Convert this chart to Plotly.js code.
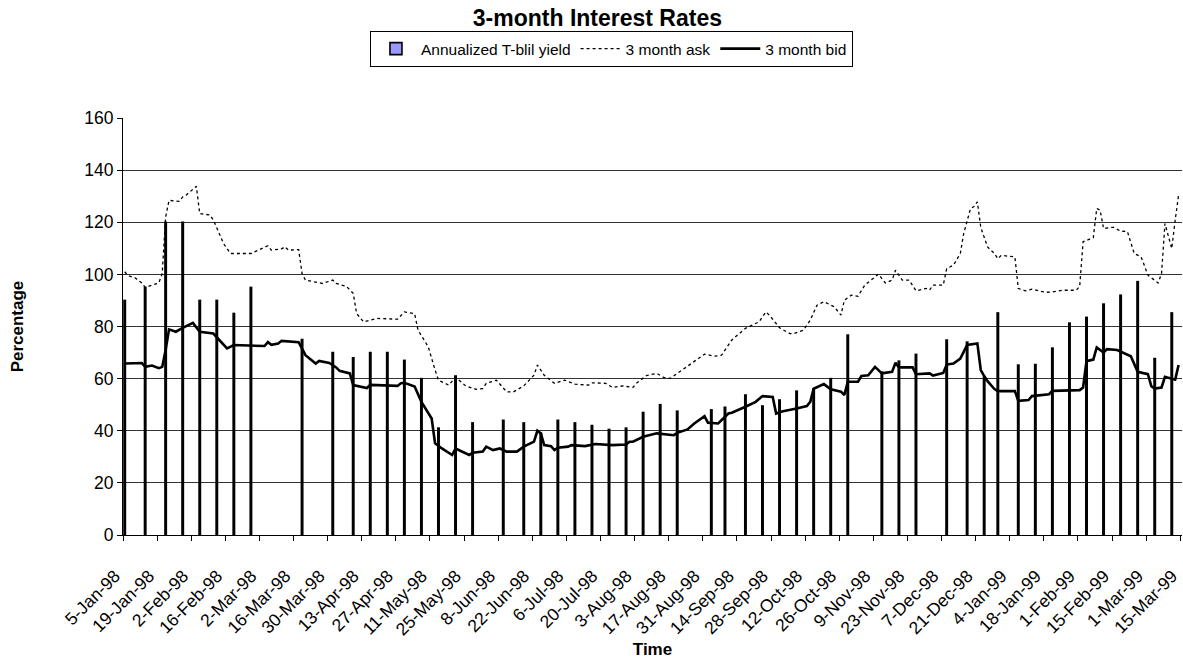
<!DOCTYPE html>
<html>
<head>
<meta charset="utf-8">
<script src="https://cdn.plot.ly/plotly-3.0.1.min.js"></script>
<style>html,body{margin:0;padding:0;background:#fff}#chart{width:1183px;height:661px}</style>
</head>
<body>
<div id="chart"></div>
<script>
// ---- data ----
const tickDates = ["1998-01-05","1998-01-19","1998-02-02","1998-02-16","1998-03-02","1998-03-16","1998-03-30","1998-04-13","1998-04-27","1998-05-11","1998-05-25","1998-06-08","1998-06-22","1998-07-06","1998-07-20","1998-08-03","1998-08-17","1998-08-31","1998-09-14","1998-09-28","1998-10-12","1998-10-26","1998-11-09","1998-11-23","1998-12-07","1998-12-21","1999-01-04","1999-01-18","1999-02-01","1999-02-15","1999-03-01","1999-03-15"];
const tickLabels = ["5-Jan-98","19-Jan-98","2-Feb-98","16-Feb-98","2-Mar-98","16-Mar-98","30-Mar-98","13-Apr-98","27-Apr-98","11-May-98","25-May-98","8-Jun-98","22-Jun-98","6-Jul-98","20-Jul-98","3-Aug-98","17-Aug-98","31-Aug-98","14-Sep-98","28-Sep-98","12-Oct-98","26-Oct-98","9-Nov-98","23-Nov-98","7-Dec-98","21-Dec-98","4-Jan-99","18-Jan-99","1-Feb-99","15-Feb-99","1-Mar-99","15-Mar-99"];

const yieldDates = ["1998-01-05","1998-01-13","1998-01-21","1998-01-28","1998-02-04","1998-02-11","1998-02-18","1998-02-25","1998-03-18","1998-03-31","1998-04-08","1998-04-15","1998-04-22","1998-04-29","1998-05-06","1998-05-13","1998-05-20","1998-05-27","1998-06-09","1998-06-17","1998-06-24","1998-07-01","1998-07-08","1998-07-15","1998-07-22","1998-07-29","1998-08-05","1998-08-12","1998-08-19","1998-09-02","1998-09-08","1998-09-16","1998-09-23","1998-09-30","1998-10-07","1998-10-14","1998-10-21","1998-10-28","1998-11-11","1998-11-18","1998-11-25","1998-12-08","1998-12-16","1998-12-23","1998-12-29","1999-01-06","1999-01-13","1999-01-20","1999-01-27","1999-02-03","1999-02-10","1999-02-17","1999-02-24","1999-03-03","1999-03-10"];
const yieldValues = [90,95,120,120,90,90,85,95,75,70,68,70,70,67,60,41,61,43,44,43,39,44,43,42,40.5,41,47,50,47.5,48,49,53.7,49.5,51.8,55.2,56,60,76.7,62.5,66.7,69.3,74.8,74,60.5,85.2,65.2,65.4,71.7,81.3,83.5,88.6,92,97.2,67.7,85.2];

const askDates = ["1998-01-05","1998-01-06","1998-01-08","1998-01-12","1998-01-13","1998-01-15","1998-01-19","1998-01-20","1998-01-21","1998-01-22","1998-01-27","1998-01-28","1998-01-29","1998-02-03","1998-02-04","1998-02-09","1998-02-10","1998-02-13","1998-02-17","1998-02-25","1998-02-27","1998-03-04","1998-03-05","1998-03-10","1998-03-11","1998-03-12","1998-03-17","1998-03-18","1998-03-19","1998-03-26","1998-03-31","1998-04-01","1998-04-06","1998-04-08","1998-04-09","1998-04-13","1998-04-17","1998-04-27","1998-04-29","1998-05-04","1998-05-05","1998-05-08","1998-05-12","1998-05-13","1998-05-18","1998-05-20","1998-05-25","1998-05-28","1998-06-01","1998-06-02","1998-06-05","1998-06-10","1998-06-12","1998-06-17","1998-06-22","1998-06-23","1998-06-25","1998-06-30","1998-07-03","1998-07-08","1998-07-14","1998-07-15","1998-07-21","1998-07-23","1998-07-28","1998-07-31","1998-08-03","1998-08-06","1998-08-11","1998-08-13","1998-08-17","1998-08-19","1998-08-24","1998-08-31","1998-09-03","1998-09-07","1998-09-10","1998-09-16","1998-09-22","1998-09-24","1998-09-25","1998-09-30","1998-10-05","1998-10-06","1998-10-09","1998-10-13","1998-10-15","1998-10-19","1998-10-22","1998-10-26","1998-10-27","1998-10-29","1998-11-02","1998-11-04","1998-11-09","1998-11-10","1998-11-12","1998-11-16","1998-11-17","1998-11-19","1998-11-23","1998-11-25","1998-11-30","1998-12-01","1998-12-02","1998-12-07","1998-12-08","1998-12-10","1998-12-14","1998-12-15","1998-12-17","1998-12-18","1998-12-21","1998-12-22","1998-12-24","1998-12-28","1998-12-29","1998-12-30","1999-01-05","1999-01-06","1999-01-08","1999-01-12","1999-01-18","1999-01-20","1999-01-25","1999-01-29","1999-02-01","1999-02-02","1999-02-05","1999-02-08","1999-02-09","1999-02-10","1999-02-12","1999-02-15","1999-02-17","1999-02-19","1999-02-23","1999-02-25","1999-02-26","1999-03-01","1999-03-04","1999-03-05","1999-03-08","1999-03-09","1999-03-10","1999-03-11","1999-03-12"];
const askValues = [101,99.5,98.7,96.7,95,95.8,96.7,100.3,122,128.4,128,129.7,130.4,133.8,123.3,122.8,120.8,111.8,108,108,109.3,111,109.3,109.8,110.6,109.3,109.5,100.3,97.8,96.5,97.8,96.5,95.4,92.7,85,81.8,83.1,82.8,85.6,84.9,78.6,72.2,63.3,59.4,57.5,60.5,57.2,55.9,56.2,58.2,59.4,54.9,54.9,57.2,61.3,65.2,61.3,58.2,59.4,57.9,57.5,58.4,58.2,56.6,57.2,56.6,58.2,61.2,62,60.5,60.1,62,64.5,69.4,68.6,69,74.8,79.3,81.8,85.6,84.4,79.5,77.3,77.2,78.6,82.4,88.2,89.5,87.6,84.4,90.1,92,91.6,95.9,99,100.1,96.7,97.8,101.6,97.8,97.8,93.7,94.6,94,95.9,95.9,102.2,103.5,108,115.7,125.3,126,127.8,118,110.5,108,106,107.3,106.7,94.6,93.7,94.3,93.1,93.3,93.9,93.9,95.4,112.5,114.1,125.3,124.6,117.6,118,118,116.6,116.4,108,106.7,103.3,99.7,96.7,100.3,119.5,114.4,109.9,120.8,130.4];

const bidDates = ["1998-01-05","1998-01-12","1998-01-13","1998-01-15","1998-01-19","1998-01-20","1998-01-21","1998-01-22","1998-01-26","1998-01-28","1998-02-02","1998-02-04","1998-02-10","1998-02-16","1998-02-18","1998-03-03","1998-03-04","1998-03-05","1998-03-09","1998-03-10","1998-03-17","1998-03-19","1998-03-24","1998-03-25","1998-03-30","1998-04-01","1998-04-02","1998-04-07","1998-04-08","1998-04-14","1998-04-15","1998-04-21","1998-04-27","1998-04-28","1998-04-29","1998-05-04","1998-05-06","1998-05-11","1998-05-12","1998-05-14","1998-05-19","1998-05-20","1998-05-26","1998-05-27","1998-06-01","1998-06-02","1998-06-04","1998-06-08","1998-06-10","1998-06-15","1998-06-17","1998-06-22","1998-06-23","1998-06-24","1998-06-25","1998-06-29","1998-06-30","1998-07-01","1998-07-06","1998-07-07","1998-07-13","1998-07-16","1998-07-23","1998-07-29","1998-07-30","1998-07-31","1998-08-05","1998-08-11","1998-08-18","1998-08-19","1998-08-24","1998-08-26","1998-08-31","1998-09-01","1998-09-04","1998-09-09","1998-09-10","1998-09-16","1998-09-21","1998-09-23","1998-09-28","1998-09-29","1998-10-01","1998-10-07","1998-10-12","1998-10-13","1998-10-14","1998-10-19","1998-10-21","1998-10-26","1998-10-27","1998-10-28","1998-11-02","1998-11-03","1998-11-05","1998-11-09","1998-11-11","1998-11-16","1998-11-17","1998-11-18","1998-11-24","1998-11-25","1998-12-01","1998-12-02","1998-12-07","1998-12-08","1998-12-10","1998-12-14","1998-12-16","1998-12-21","1998-12-22","1998-12-23","1998-12-24","1998-12-28","1998-12-29","1999-01-05","1999-01-06","1999-01-11","1999-01-12","1999-01-19","1999-01-20","1999-02-01","1999-02-02","1999-02-03","1999-02-05","1999-02-08","1999-02-10","1999-02-11","1999-02-16","1999-02-22","1999-02-24","1999-03-01","1999-03-02","1999-03-03","1999-03-05","1999-03-08","1999-03-11","1999-03-12"];
const bidValues = [65.8,66,64.5,65,64,64.5,71,78.9,78,79.5,81.4,78,77.3,71.6,72.9,72.5,74,73,73.5,74.5,74,69,65.8,66.8,66,64.3,63,62,57.5,56.4,57.6,57.5,57.2,58.2,58.4,57,51.1,44.7,35.2,33.2,30.7,33.2,30.7,31.6,32,33.9,32.6,33.2,32,32,33.9,35.8,40,39,34.5,34.1,32.6,33.5,33.9,34.5,34.1,34.9,34.5,34.7,35.8,35.8,37.7,39,38.3,39.2,40.5,42.8,45.6,43.1,42.8,46.6,46.9,49.2,51.1,53.3,53,46.6,47.5,48.5,49.5,51.1,56.1,57.9,55.9,55,53.7,58.8,58.8,61,61.3,64.5,62,62.6,66.1,64.3,64.3,61.7,62,61.2,62.2,65.4,65.8,67.7,72.9,73.5,63.3,61,59,56,55.2,55.2,51.5,51.8,53.3,54,55.3,55.6,56.6,66.7,67.3,72,70,71.3,71,68.6,62.6,61.7,57.1,56.2,56.6,60.7,59.6,65.2];

// ---- chart ----
const mid = d => d + " 12:00";
const FONT = "Liberation Sans, Arial, sans-serif";
const DAY = 86400000;

const traces = [
  {type: "bar", name: "Annualized T-blil yield", x: yieldDates.map(mid), y: yieldValues,
   width: 0.4 * DAY, marker: {color: "#9999FF", line: {color: "#000000", width: 1.6}}},
  {type: "scatter", mode: "lines", name: "3 month ask", x: askDates.map(mid), y: askValues,
   line: {color: "#000000", width: 1.3, dash: "3px,3px"}},
  {type: "scatter", mode: "lines", name: "3 month bid", x: bidDates.map(mid), y: bidValues,
   line: {color: "#000000", width: 2.6}}
];

const layout = {
  width: 1183, height: 661,
  margin: {l: 123, r: 1, t: 118, b: 126},
  paper_bgcolor: "#ffffff", plot_bgcolor: "#ffffff",
  font: {family: FONT, size: 16, color: "#000000"},
  showlegend: true,
  bargap: 0,
  title: {text: "<b>3-month Interest Rates</b>", font: {family: FONT, size: 23, color: "#000"},
          x: 0.505, xanchor: "center", y: 0.973, yanchor: "middle"},
  legend: {orientation: "h", x: 0.2332, xanchor: "left", y: 1.2086, yanchor: "top",
           bgcolor: "#ffffff", bordercolor: "#000000", borderwidth: 1,
           font: {family: FONT, size: 15.5, color: "#000"}, traceorder: "normal",
           itemwidth: 40, tracegroupgap: 0},
  xaxis: {
    type: "date",
    range: ["1998-01-05", "1999-03-15 12:00"],
    rangebreaks: [{bounds: ["sat", "mon"]}],
    tickmode: "array", tickvals: tickDates, ticktext: tickLabels,
    tickangle: -45, ticks: "outside", ticklen: 5, tickcolor: "#000", tickwidth: 1,
    tickfont: {family: FONT, size: 17.5, color: "#000"},
    ticklabeloverflow: "allow", ticklabelstandoff: 18, ticklabelshift: -8,
    showgrid: false, zeroline: false,
    showline: true, linecolor: "#000", linewidth: 1,
    title: {text: "<b>Time</b>", font: {family: FONT, size: 17, color: "#000"}, standoff: 4},
    automargin: false
  },
  yaxis: {
    range: [0, 160], dtick: 20, tick0: 0,
    ticks: "outside", ticklen: 5, tickcolor: "#000",
    tickfont: {family: FONT, size: 17.5, color: "#000"},
    showgrid: true, gridcolor: "#333333", gridwidth: 1,
    zeroline: false, showline: true, linecolor: "#000", linewidth: 1,
    title: {text: "<b>Percentage</b>", font: {family: FONT, size: 17, color: "#000"}, standoff: 56},
    automargin: false
  }
};

Plotly.newPlot("chart", traces, layout, {staticPlot: true, displayModeBar: false});
</script>
</body>
</html>
